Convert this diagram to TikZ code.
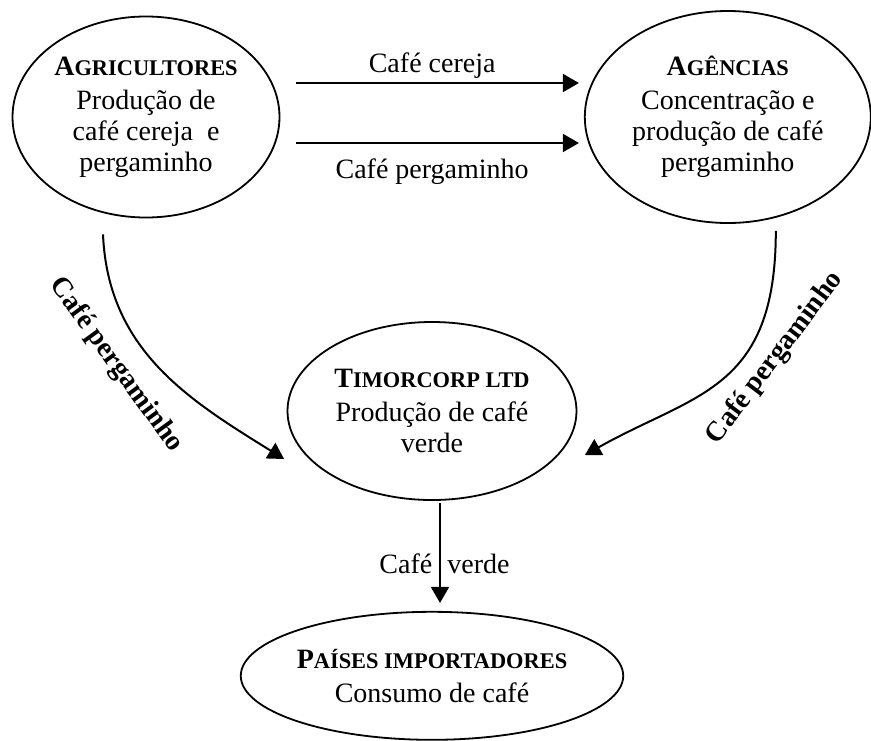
\documentclass[tikz,border=0pt]{standalone}
\usepackage{fontspec}
\setmainfont{Liberation Serif}
\usepackage{tikz}
\usetikzlibrary{positioning}
\usetikzlibrary{shapes.geometric}
\usetikzlibrary{arrows.meta}

\newcommand{\capsc}[2]{\textbf{#1{\fontsize{11.2}{11.2}\selectfont #2}}}

\begin{document}
\begin{tikzpicture}[x=0.5pt,y=-0.5pt,font=\fontsize{14}{15.5}\selectfont,
    actor/.style={ellipse,draw,line width=0.9pt,inner sep=0pt,align=center},
    flow/.style={-{Triangle[length=8pt,width=9pt]},line width=1pt},
    sidelbl/.style={font=\fontsize{14}{15.5}\selectfont\bfseries}]
    \useasboundingbox (0,0) rectangle (871,740);
    \node[actor,minimum width=133.5pt,minimum height=100.5pt] (agri) at (146,117)
        {\capsc{A}{GRICULTORES}\\[1.5pt]Produção de\\café cereja~ e\\pergaminho};
    \node[actor,minimum width=143pt,minimum height=106pt] (agen) [right=151.75pt of agri]
        {\capsc{A}{GÊNCIAS}\\[1.5pt]Concentração e\\produção de café\\pergaminho};
    \node[actor,minimum width=144.5pt,minimum height=89pt] (timor) at (432,411)
        {\capsc{T}{IMORCORP LTD}\\[1.5pt]Produção de café\\verde};
    \node[actor,minimum width=186pt,minimum height=64pt] (paises) [below=55pt of timor]
        {\capsc{P}{AÍSES IMPORTADORES}\\[1.5pt]Consumo de café};
    \coordinate (cerejaA) at ([yshift=17pt]agri.east);
    \coordinate (pergA) at ([yshift=-13pt]agri.east);
    \draw[flow,shorten <=7.75pt,shorten >=2.5pt] (cerejaA) -- (cerejaA -| agen.west)
        node[midway,above,inner sep=2pt] (cereja) {Café cereja};
    \draw[flow,shorten <=7.75pt,shorten >=2.5pt] (pergA) -- (pergA -| agen.west)
        node[midway,below=4pt] (perg) {Café pergaminho};
    % curved flows into Timorcorp
    \draw[flow] ([xshift=-21.5pt,yshift=-8pt]agri.south) .. controls +(5,116) and +(-95,-59) .. ([xshift=-1.25pt,yshift=-24pt]timor.west);
    \node[sidelbl,rotate=-54] (pergL) at (116,365) {Café pergaminho};
    \draw[flow] ([xshift=24pt,yshift=-3.5pt]agen.south) .. controls +(0,160) and +(110,-62) .. ([xshift=3.75pt,yshift=-22pt]timor.east);
    \node[sidelbl,rotate=53] (pergR) at (775,358) {Café pergaminho};
    \coordinate (verdeA) at ([xshift=4pt]timor.south);
    \draw[flow,shorten <=1pt,shorten >=4pt] (verdeA) -- (verdeA |- paises.north)
        node[pos=0.57,xshift=2.25pt] (verde) {Café\hspace{7.5pt}verde};
\end{tikzpicture}
\end{document}
